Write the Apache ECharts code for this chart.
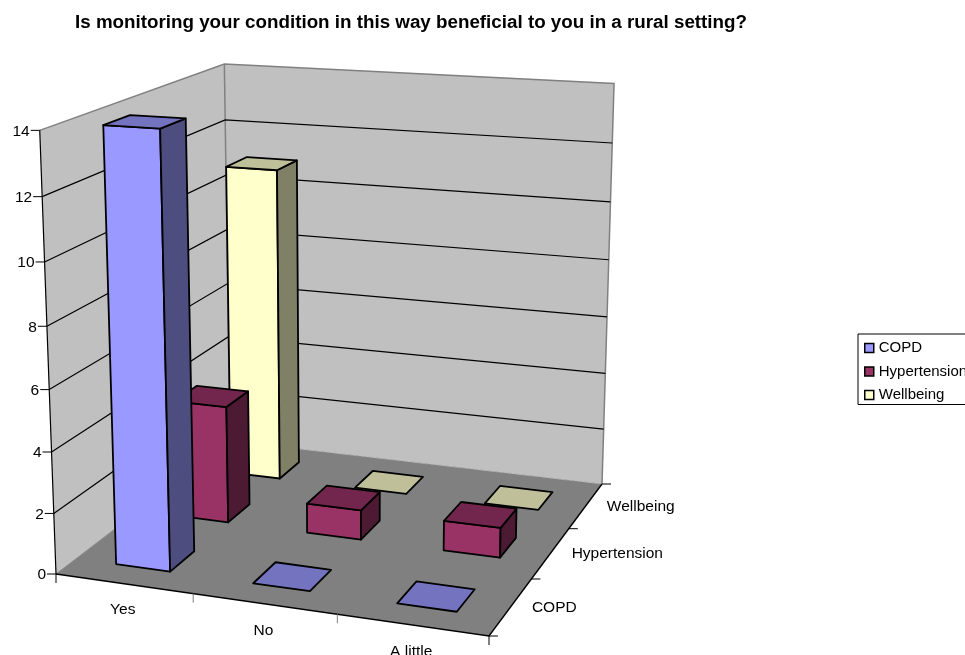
<!DOCTYPE html>
<html>
<head>
<meta charset="utf-8">
<script src="https://cdn.jsdelivr.net/npm/echarts@6/dist/echarts.min.js"></script>
<style>html,body{margin:0;padding:0;background:#fff;overflow:hidden}#chart{width:965px;height:655px}</style>
</head>
<body>
<div id="chart"></div>
<script>
const chartTitle = 'Is monitoring your condition in this way beneficial to you in a rural setting?';
const categories = ['Yes', 'No', 'A little'];
const seriesNames = ['COPD', 'Hypertension', 'Wellbeing'];
const copd = [14, 0, 0];
const hypertension = [4, 1, 1];
const wellbeing = [11, 0, 0];
const yTicks = [0, 2, 4, 6, 8, 10, 12, 14];

const seriesValues = [copd, hypertension, wellbeing];
const frontColors = ['#9999FF', '#993366', '#FFFFCC'];
const topColors = ['#7373BF', '#73264D', '#BFBF99'];
const sideColors = ['#4D4D80', '#4D1A33', '#808066'];
const FAMILY = '"Liberation Sans", Arial, sans-serif';
const FONT = '15.5px ' + FAMILY;
const BAR_SHARE = 0.4; // gap width 150% on both floor directions

// Camera calibration: where the plot box corners land on the page.
const box = {
  floorFrontLeft: [56, 574], floorFrontRight: [489, 636],
  floorBackRight: [602, 484], floorBackLeft: [230, 441],
  topFrontLeft: [39, 128], topBackLeft: [225, 64.5], topBackRight: [614, 85]
};

function buildCamera() {
  const [A, B, C, D] = [box.floorFrontLeft, box.floorFrontRight, box.floorBackRight, box.floorBackLeft];
  const dx1 = B[0] - C[0], dx2 = D[0] - C[0], sx = A[0] - B[0] + C[0] - D[0];
  const dy1 = B[1] - C[1], dy2 = D[1] - C[1], sy = A[1] - B[1] + C[1] - D[1];
  const det = dx1 * dy2 - dx2 * dy1;
  const g = (sx * dy2 - dx2 * sy) / det, h = (dx1 * sy - sx * dy1) / det;
  const nu = [B[0] - A[0] + g * B[0], D[0] - A[0] + h * D[0], A[0]];
  const nv = [B[1] - A[1] + g * B[1], D[1] - A[1] + h * D[1], A[1]];
  // Least squares for the vertical column of the camera matrix (du, dv, k).
  const obs = [[0, 0, box.topFrontLeft], [0, 1, box.topBackLeft], [1, 1, box.topBackRight]];
  let rows = [], rhs = [];
  obs.forEach(([x, z, p]) => {
    const w = g * x + h * z + 1;
    rows.push([1, 0, -p[0]]); rhs.push(p[0] * w - (nu[0] * x + nu[1] * z + nu[2]));
    rows.push([0, 1, -p[1]]); rhs.push(p[1] * w - (nv[0] * x + nv[1] * z + nv[2]));
  });
  const M = [0, 1, 2].map(i => [0, 1, 2].map(j => rows.reduce((s, r) => s + r[i] * r[j], 0)));
  const V = [0, 1, 2].map(i => rows.reduce((s, r, n) => s + r[i] * rhs[n], 0));
  const d3 = m => m[0][0] * (m[1][1] * m[2][2] - m[1][2] * m[2][1]) - m[0][1] * (m[1][0] * m[2][2] - m[1][2] * m[2][0]) + m[0][2] * (m[1][0] * m[2][1] - m[1][1] * m[2][0]);
  const base = d3(M);
  const sol = [0, 1, 2].map(c => d3(M.map((r, i) => r.map((val, j) => j === c ? V[i] : val))) / base);
  return (x, y, z) => {
    const w = g * x + h * z + sol[2] * y + 1;
    return [(nu[0] * x + nu[1] * z + nu[2] + sol[0] * y) / w, (nv[0] * x + nv[1] * z + nv[2] + sol[1] * y) / w];
  };
}
const project = buildCamera();

const poly = (pts, fill, stroke, width) => ({
  type: 'polygon', shape: { points: pts },
  style: { fill, stroke: stroke || null, lineWidth: width || 0, lineJoin: 'round' }, silent: true
});
const line = (pts, stroke, width, dash) => ({
  type: 'polyline', shape: { points: pts },
  style: { fill: null, stroke, lineWidth: width, lineDash: dash || null }, silent: true
});
const label = (text, pos, align) => ({
  type: 'text', silent: true,
  style: { text: String(text), x: pos[0], y: pos[1], fill: '#000', font: FONT, textAlign: align || 'center', textVerticalAlign: 'middle' }
});

// Unit height of a value through the hidden value axis.
function unitOf(api, cs, cat, val) {
  const p = api.coord([cat, val]);
  return { x: (p[0] - cs.x) / cs.width, y: 1 - (p[1] - cs.y) / cs.height };
}

// Walls, floor, gridlines and the three axes; project() takes (across, up, depth).
function renderFrame(params, api) {
  const cs = params.coordSys;
  const children = [];
  const P = project;
  const grey = '#808080';
  children.push(poly([P(0,0,0), P(0,0,1), P(0,1,1), P(0,1,0)], '#C0C0C0'));
  children.push(poly([P(0,0,1), P(0,1,1), P(1,1,1), P(1,0,1)], '#C0C0C0'));
  children.push(poly([P(0,0,0), P(1,0,0), P(1,0,1), P(0,0,1)], '#808080'));
  children.push(line([P(0,1,0), P(0,1,1), P(1,1,1), P(1,0,1)], grey, 1.5));
  children.push(line([P(0,1,1), P(0,0,1)], grey, 1.5));
  children.push(line([P(0,0,0), P(0,0,1)], '#8C8C8C', 1));
  children.push(line([P(0,0,1), P(1,0,1)], '#A6A6A6', 1, [4, 3]));

  yTicks.forEach(v => {
    const y = unitOf(api, cs, 0, v).y;
    if (v > 0 && v < 14) children.push(line([P(0,y,0), P(0,y,1), P(1,y,1)], '#000', 1.2));
    const a = P(0, y, 0);
    children.push(line([[a[0] - 9, a[1]], a], '#000', 1));
    children.push(label(v, [a[0] - 10, a[1] + 1], 'right'));
  });

  children.push(line([P(0,1,0), P(0,0,0)], '#000', 1.2));
  children.push(line([P(0,0,0), P(1,0,0), P(1,0,1)], '#000', 1.4));

  // Category axis ticks and names along the front floor edge.
  [0, 1, 2, 3].forEach(i => {
    const a = P(i / 3, 0, 0);
    children.push(line([a, [a[0], a[1] + 9]], i % 3 ? grey : '#000', 1));
  });
  categories.forEach((c, i) => {
    const a = P((i + 0.5) / 3, 0, 0);
    children.push(label(c, [a[0] - 1, a[1] + 26.5]));
  });
  // Depth axis ticks and names along the right floor edge.
  [0, 1, 2, 3].forEach(i => {
    const a = P(1, 0, i / 3);
    children.push(line([a, [a[0] + 9, a[1]]], '#000', 1));
  });
  seriesNames.forEach((n, i) => {
    const b = P(1, 0, (i + 0.5) / 3);
    children.push(label(n, [b[0] + 21, b[1] + 1], 'left'));
  });
  return { type: 'group', children };
}

function barRenderer(depthIndex) {
  return function (params, api) {
    const cs = params.coordSys;
    const cat = api.value(0);
    const u = unitOf(api, cs, cat, api.value(1));
    const half = (api.size([1, 0])[0] / cs.width) * BAR_SHARE / 2;
    const x0 = u.x - half, x1 = u.x + half;
    const zc = (depthIndex + 0.5) / 3, dz = BAR_SHARE / 6;
    const z0 = zc - dz, z1 = zc + dz, y = u.y;
    const P = project;
    const children = [];
    const k = '#000';
    if (y > 0) {
      children.push(poly([P(x0,0,z0), P(x1,0,z0), P(x1,y,z0), P(x0,y,z0)], frontColors[depthIndex], k, 1.8));
      children.push(poly([P(x1,0,z0), P(x1,0,z1), P(x1,y,z1), P(x1,y,z0)], sideColors[depthIndex], k, 1.8));
    }
    children.push(poly([P(x0,y,z0), P(x1,y,z0), P(x1,y,z1), P(x0,y,z1)], topColors[depthIndex], k, 1.8));
    return { type: 'group', children };
  };
}

const barSeries = [2, 1, 0].map(i => ({
  name: seriesNames[i],
  type: 'custom',
  coordinateSystem: 'cartesian2d',
  clip: false,
  z: 5 + (2 - i),
  itemStyle: { color: frontColors[i] },
  renderItem: barRenderer(i),
  encode: { x: 0, y: 1 },
  data: seriesValues[i].map((v, c) => [c, v])
}));

const chart = echarts.init(document.getElementById('chart'), null, { renderer: 'canvas' });
chart.setOption({
  animation: false,
  backgroundColor: '#fff',
  title: {
    text: chartTitle, left: 75, top: 13, padding: 0,
    textStyle: { fontFamily: FAMILY, fontSize: 18.8, fontWeight: 'bold', color: '#000' }
  },
  legend: {
    data: seriesNames, orient: 'vertical', left: 858, top: 334,
    padding: [6.5, 12, 2, 6], itemWidth: 9, itemHeight: 9, itemGap: 8.5,
    borderColor: '#000', borderWidth: 1, backgroundColor: '#fff',
    icon: 'rect', selectedMode: false,
    itemStyle: { borderColor: '#000', borderWidth: 1.5 },
    textStyle: { fontFamily: FAMILY, fontSize: 15, color: '#000' }
  },
  grid: { left: 0, top: 0, width: 600, height: 600, show: false },
  xAxis: { type: 'category', data: categories, show: false },
  yAxis: { type: 'value', min: 0, max: 14, interval: 2, show: false },
  series: [{
    type: 'custom', coordinateSystem: 'cartesian2d', clip: false, z: 1,
    renderItem: renderFrame, encode: { x: 0, y: 1 }, data: [[0, 0]], silent: true
  }].concat(barSeries)
});
</script>
</body>
</html>
